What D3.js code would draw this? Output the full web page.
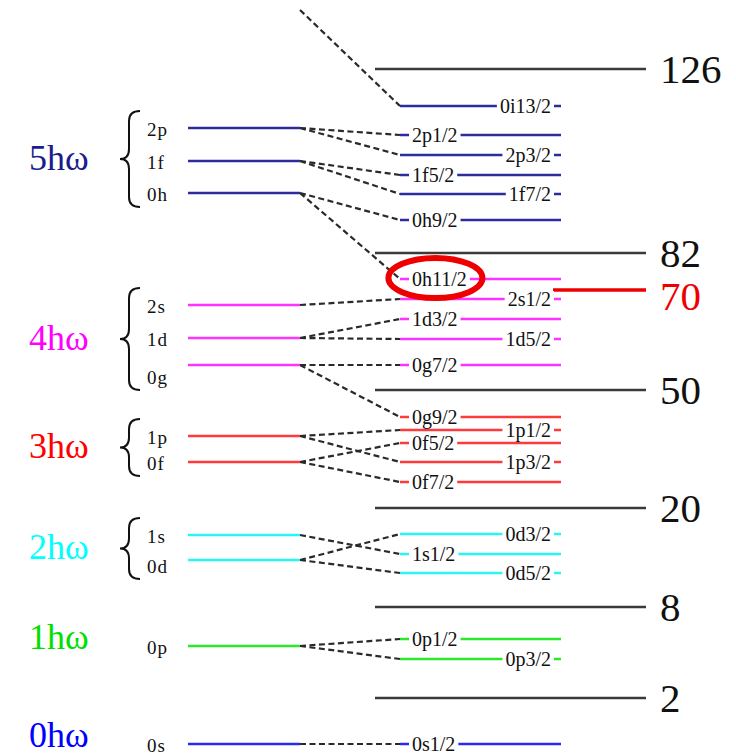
<!DOCTYPE html>
<html>
<head>
<meta charset="utf-8">
<script src="https://cdn.jsdelivr.net/npm/d3@7"></script>
<style>
  html, body { margin: 0; padding: 0; background: #fff; }
  svg { display: block; font-family: "Liberation Serif", "Times New Roman", serif; }
</style>
</head>
<body>
<svg id="chart" width="736" height="755"></svg>
<script>
// Oscillator shells (N ħω)
const shells = ["0hω", "1hω", "2hω", "3hω", "4hω", "5hω"];

// Harmonic-oscillator orbitals (left column), energies in ħω units
const orbitals      = ["0s", "0p", "0d", "1s", "0f", "1p", "0g", "1d", "2s", "0h", "1f", "2p"];
const orbitalShell  = [0, 1, 2, 2, 3, 3, 4, 4, 4, 5, 5, 5];
const orbitalEnergy = [0.00, 0.98, 1.84, 2.09, 2.82, 3.08, 3.79, 4.06, 4.39, 5.51, 5.83, 6.16];

// 6ħω parent of the intruder 0i13/2 (above the drawn range)
const intruderParent = "0i";
const intruderParentEnergy = 7.34;

// Spin-orbit split states (right column)
const states = ["0s1/2", "0p3/2", "0p1/2", "0d5/2", "1s1/2", "0d3/2",
                "0f7/2", "1p3/2", "0f5/2", "1p1/2", "0g9/2",
                "0g7/2", "1d5/2", "1d3/2", "2s1/2", "0h11/2",
                "0h9/2", "1f7/2", "1f5/2", "2p3/2", "2p1/2", "0i13/2"];
const stateParent = ["0s", "0p", "0p", "0d", "1s", "0d",
                     "0f", "1p", "0f", "1p", "0g",
                     "0g", "1d", "1d", "2s", "0h",
                     "0h", "1f", "1f", "2p", "2p", "0i"];
const stateEnergy = [0.00, 0.85, 1.05, 1.71, 1.90, 2.10,
                     2.62, 2.82, 3.01, 3.14, 3.27,
                     3.79, 4.05, 4.25, 4.45, 4.65,
                     5.24, 5.50, 5.69, 5.89, 6.09, 6.38];

// Shell closures (magic numbers)
const magicNumbers = [2, 8, 20, 50, 70, 82, 126];
const magicEnergy  = [0.46, 1.37, 2.36, 3.54, 4.54, 4.91, 6.75];
const subShellClosure = 70;          // drawn in red, shorter
const highlightedState = "0h11/2";

// ---- styling / layout ----
const shellText = ["#0000ff", "#00e000", "#00ffff", "#ff0000", "#ff00ff", "#1c1c8e"];
const shellLine = ["#2a2af0", "#2ae82a", "#2af5f5", "#ff3a3a", "#ff33ff", "#2c2c9c"];
const rightLabelSide = new Set(["0i13/2", "2p3/2", "1f7/2", "2s1/2", "1d5/2",
                                "1p1/2", "1p3/2", "0d3/2", "0d5/2", "0p3/2"]);
const orbitalLabelNudge = { "0g": 11, "0d": 5 };

const svg = d3.select("#chart");
const y = d3.scaleLinear().domain([0, 7.44]).range([744, 0]);

const X = {
  shellLabel: 29, braceRight: 140, orbLabel: 147,
  leftStart: 188, leftEnd: 300,
  rightStart: 400, rightEnd: 561,
  stateLabelL: 412, stateLabelR: 551,
  magicStart: 375, magicEnd: 646, magicLabel: 660, subShellStart: 553
};

const orbIndex = new Map(orbitals.map((o, i) => [o, i]));
const parentY = p => p === intruderParent ? y(intruderParentEnergy) : y(orbitalEnergy[orbIndex.get(p)]);

// Colour group of a split state: the major shell bounded by closures (70 excluded)
const majorClosures = magicEnergy.filter((e, i) => magicNumbers[i] !== subShellClosure);
const stateGroup = e => majorClosures.filter(m => m < e).length;

// ---- magic-number gaps ----
const magic = magicNumbers.map((n, i) => ({ n, e: magicEnergy[i], sub: n === subShellClosure }));
svg.append("g").selectAll("line").data(magic).join("line")
  .attr("x1", d => d.sub ? X.subShellStart : X.magicStart)
  .attr("x2", X.magicEnd)
  .attr("y1", d => y(d.e)).attr("y2", d => y(d.e))
  .attr("stroke", d => d.sub ? "#ee0000" : "#3a3a3a")
  .attr("stroke-width", d => d.sub ? 3.5 : 2.5);
svg.append("g").selectAll("text").data(magic).join("text")
  .attr("x", X.magicLabel)
  .attr("y", d => y(d.e) + (d.sub ? 20 : 14))
  .attr("font-size", 41)
  .attr("fill", d => d.sub ? "#ee0000" : "#111")
  .text(d => d.n);

// ---- dashed connectors ----
const links = states.map((s, i) => ({ s, e: stateEnergy[i], p: stateParent[i] }));
svg.append("g").selectAll("line").data(links).join("line")
  .attr("x1", X.leftEnd).attr("y1", d => parentY(d.p))
  .attr("x2", X.rightStart).attr("y2", d => y(d.e))
  .attr("stroke", "#2a2a2a").attr("stroke-width", 2.2)
  .attr("stroke-dasharray", "6,3.5");

// ---- orbital levels (left) ----
const orbs = orbitals.map((o, i) => ({ o, e: orbitalEnergy[i], shell: orbitalShell[i] }));
svg.append("g").selectAll("line").data(orbs).join("line")
  .attr("x1", X.leftStart).attr("x2", X.leftEnd)
  .attr("y1", d => y(d.e)).attr("y2", d => y(d.e))
  .attr("stroke", d => shellLine[d.shell]).attr("stroke-width", 2.5);
const orbLabelY = d => y(d.e) + (orbitalLabelNudge[d.o] || 0);
svg.append("g").selectAll("text").data(orbs).join("text")
  .attr("x", X.orbLabel).attr("y", d => orbLabelY(d) + 7.5)
  .attr("font-size", 19).attr("fill", "#111")
  .attr("letter-spacing", 1)
  .text(d => d.o);

// ---- shell labels and braces ----
const shellData = shells.map((name, s) => {
  const members = orbs.filter(d => d.shell === s);
  const ys = members.map(orbLabelY);
  return { name, s, top: d3.min(ys), bot: d3.max(ys), count: members.length };
});
svg.append("g").selectAll("text").data(shellData).join("text")
  .attr("x", X.shellLabel)
  .attr("y", d => (d.top + d.bot) / 2 + (d.count > 1 ? 9 : 3))
  .attr("font-size", 36)
  .attr("fill", d => shellText[d.s])
  .text(d => d.name);

function bracePath(x, y0, y1, w) {
  const ym = (y0 + y1) / 2, xm = x - w * 0.55, xt = x - w, r = w * 0.5;
  return `M${x},${y0} Q${xm},${y0} ${xm},${y0 + r} L${xm},${ym - r}` +
         ` Q${xm},${ym} ${xt},${ym} Q${xm},${ym} ${xm},${ym + r}` +
         ` L${xm},${y1 - r} Q${xm},${y1} ${x},${y1}`;
}
svg.append("g").selectAll("path").data(shellData.filter(d => d.count > 1)).join("path")
  .attr("d", d => bracePath(X.braceRight, d.top - 17, d.bot + 14, 20))
  .attr("fill", "none").attr("stroke", "#111").attr("stroke-width", 2);

// ---- split states (right) ----
const gState = svg.append("g");
gState.selectAll("line").data(links).join("line")
  .attr("x1", X.rightStart).attr("x2", X.rightEnd)
  .attr("y1", d => y(d.e)).attr("y2", d => y(d.e))
  .attr("stroke", d => shellLine[stateGroup(d.e)]).attr("stroke-width", 2.5);

const labels = gState.selectAll("g.lbl").data(links).join("g").attr("class", "lbl");
const txt = labels.append("text")
  .attr("x", d => rightLabelSide.has(d.s) ? X.stateLabelR : X.stateLabelL)
  .attr("y", d => y(d.e) + 7)
  .attr("text-anchor", d => rightLabelSide.has(d.s) ? "end" : "start")
  .attr("font-size", 20).attr("fill", "#111")
  .text(d => d.s);
txt.each(function () {
  const b = this.getBBox();
  d3.select(this.parentNode).insert("rect", "text")
    .attr("x", b.x - 3).attr("y", b.y + 3)
    .attr("width", b.width + 6).attr("height", b.height - 6)
    .attr("fill", "#fff");
});

// ---- highlight ring around one state label ----
const hi = txt.filter(d => d.s === highlightedState).node().getBBox();
svg.append("ellipse")
  .attr("cx", hi.x + hi.width / 2 - 4)
  .attr("cy", hi.y + hi.height / 2 - 1)
  .attr("rx", 47).attr("ry", 20)
  .attr("fill", "none").attr("stroke", "#ee0000").attr("stroke-width", 6);
</script>
</body>
</html>
